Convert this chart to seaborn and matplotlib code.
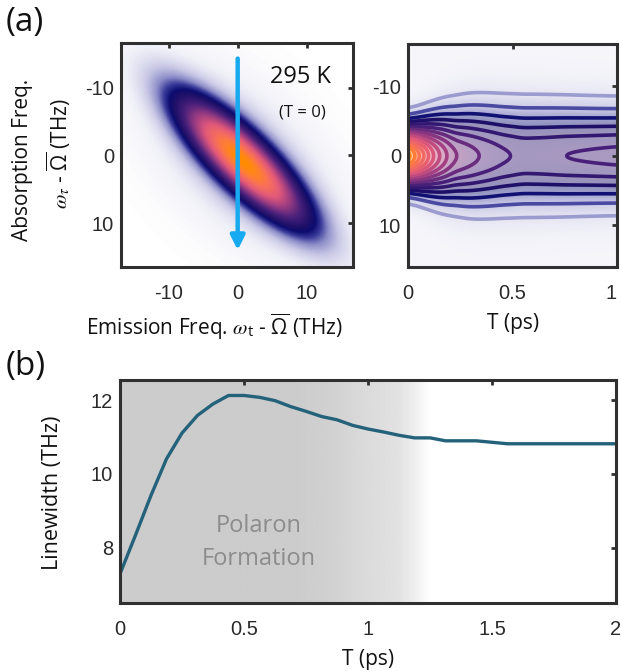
import numpy as np
import matplotlib
matplotlib.use("Agg")
import matplotlib.pyplot as plt
import seaborn as sns
import pandas as pd
from matplotlib.colors import LinearSegmentedColormap, Normalize

# ---------------- data ----------------
# Panel (b): linewidth vs population time
t_ps = [0, 0.0625, 0.125, 0.1875, 0.25, 0.3125, 0.375, 0.4375, 0.5, 0.5625,
        0.625, 0.6875, 0.75, 0.8125, 0.875, 0.9375, 1.0, 1.0625, 1.125, 1.1875,
        1.25, 1.3125, 1.375, 1.4375, 1.5, 1.5625, 2.0]
linewidth_thz = [7.29, 8.34, 9.42, 10.41, 11.11, 11.59, 11.90, 12.13, 12.13, 12.08,
                 11.99, 11.83, 11.70, 11.56, 11.47, 11.32, 11.22, 11.14, 11.05, 10.98,
                 10.98, 10.90, 10.90, 10.90, 10.86, 10.82, 10.82]

# gray "polaron formation" shading (T stops, gray level)
shade_t = [0, 0.72, 0.85, 1.0, 1.12, 1.18, 1.25, 2.0]
shade_gray = [0.80, 0.80, 0.82, 0.86, 0.885, 0.93, 1.0, 1.0]

# Panel (a) left: 2D spectrum at T = 0 (two gaussian components along the diagonal)
peak_center = [0.7, 0.8]
comp_amp = [0.9, 0.10]
comp_sigma_diag = [8.4, 12.0]
comp_sigma_anti = [2.5, 6.5]

# Panel (a) right: projected spectrum vs T (amplitude and width)
pop_t = [0, 0.033, 0.053, 0.077, 0.097, 0.12, 0.15, 0.185, 0.225, 0.3, 0.35,
         0.45, 0.55, 0.65, 0.75, 0.85, 1.0]
pop_amp = [1.0, 0.90, 0.84, 0.78, 0.72, 0.66, 0.60, 0.54, 0.48, 0.44, 0.415,
           0.37, 0.345, 0.35, 0.3595, 0.366, 0.376]
pop_sigma = [2.8, 3.0, 3.15, 3.3, 3.45, 3.65, 3.9, 4.1, 4.3, 4.6, 4.65,
             4.72, 4.76, 4.72, 4.65, 4.58, 4.49]
contour_levels = [0.06, 0.12, 0.18, 0.24, 0.30, 0.36, 0.42, 0.48, 0.54, 0.60,
                  0.66, 0.72, 0.78, 0.84, 0.90, 0.96]

freq_ticks = [-10, 0, 10]
t_ticks_a = [0, 0.5, 1]
t_ticks_b = [0, 0.5, 1, 1.5, 2]
lw_ticks = [8, 10, 12]

# ---------------- style ----------------
sns.set_theme(style="white")
LABEL_FONT = ["Open Sans", "DejaVu Sans"]
TICK_FONT = ["Liberation Sans", "DejaVu Sans"]
plt.rcParams["font.family"] = TICK_FONT
plt.rcParams["axes.unicode_minus"] = False
plt.rcParams["mathtext.fontset"] = "custom"
plt.rcParams["mathtext.rm"] = "Open Sans"
plt.rcParams["mathtext.it"] = "STIXGeneral:italic"
plt.rcParams["mathtext.bf"] = "Open Sans:bold"

FRAME = "#303030"
cmap = LinearSegmentedColormap.from_list(
    "spec",
    [(0.00, "#ffffff"), (0.04, "#f0f0f8"), (0.10, "#c8c8e6"), (0.16, "#8c8cc8"),
     (0.21, "#3a3a9a"), (0.26, "#0c0c70"), (0.31, "#1e1068"), (0.42, "#48207a"),
     (0.56, "#9a3c82"), (0.70, "#e0587a"), (0.84, "#f8705a"), (0.94, "#ff8228"),
     (1.00, "#ff8c00")])

W, H = 621, 671
fig = plt.figure(figsize=(W / 100, H / 100), dpi=100)


def px_axes(x0, y0, x1, y1):
    return fig.add_axes([x0 / W, 1 - y1 / H, (x1 - x0) / W, (y1 - y0) / H])


def style_axes(ax, xpad=12):
    for s in ax.spines.values():
        s.set_linewidth(2.2)
        s.set_color(FRAME)
        s.set_visible(True)
        s.set_zorder(5)
    ax.tick_params(direction="in", length=3.5, width=2, colors=FRAME,
                   top=True, right=True, labelsize=14.5, labelcolor="#2a2a2a")
    ax.tick_params(axis="x", pad=xpad)
    ax.tick_params(axis="y", pad=5)
    ax.set_xlabel("")
    ax.set_ylabel("")


def smooth(arr, n):
    k = np.exp(-0.5 * (np.arange(-3 * n, 3 * n + 1) / n) ** 2)
    k /= k.sum()
    pad = np.pad(arr, 3 * n, mode="edge")
    return np.convolve(pad, k, mode="valid")


# ---- (a) left: 2D spectrum ----
ax1 = px_axes(121, 43, 353, 267)
x = np.linspace(-17, 17, 341)
y = np.linspace(-17, 17, 341)
X, Y = np.meshgrid(x, y)
U = ((X - peak_center[0]) + (Y - peak_center[1])) / np.sqrt(2)
V = ((Y - peak_center[1]) - (X - peak_center[0])) / np.sqrt(2)
Z = np.zeros_like(X)
for a, sd, sa in zip(comp_amp, comp_sigma_diag, comp_sigma_anti):
    Z += a * np.exp(-U**2 / (2 * sd**2) - V**2 / (2 * sa**2))
ax1.imshow(Z, extent=[-17, 17, -17, 17], origin="lower", cmap=cmap,
           norm=Normalize(0, 1), interpolation="bilinear", aspect="auto")
ax1.set_xlim(-16.9, 16.7)
ax1.set_ylim(16.5, -16.6)
ax1.set_xticks(freq_ticks)
ax1.set_yticks(freq_ticks)
style_axes(ax1)
ax1.annotate("", xy=(0, 14.0), xytext=(0, -14.3),
             arrowprops=dict(arrowstyle="-|>,head_length=0.7,head_width=0.35",
                             color="#17aaf0", lw=3.2, shrinkA=0, shrinkB=0))
ax1.text(9.1, -11.6, "295 K", ha="center", va="center", fontsize=17,
         family=LABEL_FONT, color="#111111")
ax1.text(9.3, -6.4, "(T = 0)", ha="center", va="center", fontsize=12,
         family=LABEL_FONT, color="#111111")

# ---- (a) right: spectrum vs T ----
ax2 = px_axes(408, 44, 617, 267)
tt = np.linspace(0, 1, 801)
ww = np.linspace(-16.5, 16.5, 661)
TT, WW = np.meshgrid(tt, ww)
amp = smooth(np.interp(tt, pop_t, pop_amp), 16)
sig = smooth(np.interp(tt, pop_t, pop_sigma), 40)
S = amp[None, :] * np.exp(-WW**2 / (2 * sig[None, :] ** 2))
ax2.imshow(S, extent=[0, 1, -16.5, 16.5], origin="lower", cmap=cmap,
           norm=Normalize(-0.05, 1), interpolation="bilinear", aspect="auto",
           alpha=0.45, zorder=0)
ax2.contour(TT, WW, S, levels=contour_levels, cmap=cmap,
            norm=Normalize(-0.1, 1.0), linewidths=2.6, zorder=2)
ax2.set_xlim(0, 1)
ax2.set_ylim(16.0, -16.1)
ax2.set_xticks(t_ticks_a)
ax2.set_xticklabels(["0", "0.5", "1"])
ax2.get_xticklabels()[-1].set_horizontalalignment("right")
ax2.set_yticks(freq_ticks)
style_axes(ax2)

# ---- (b) linewidth ----
ax3 = px_axes(120, 380, 616, 603)
gt = np.linspace(0, 2, 801)
grad = np.interp(gt, shade_t, shade_gray)
ax3.imshow(grad[None, :], extent=[0, 2, 6.5, 12.55], aspect="auto",
           cmap="gray", vmin=0, vmax=1, interpolation="bilinear", zorder=0)
df = pd.DataFrame({"T": t_ps, "LW": linewidth_thz})
sns.lineplot(data=df, x="T", y="LW", ax=ax3, color="#23627a", linewidth=2.4,
             zorder=3)
ax3.set_xlim(0, 2)
ax3.set_ylim(6.5, 12.55)
ax3.set_xticks(t_ticks_b)
ax3.set_xticklabels(["0", "0.5", "1", "1.5", "2"])
ax3.set_yticks(lw_ticks)
style_axes(ax3)
ax3.text(0.56, 8.13, "Polaron\nFormation", ha="center", va="center",
         fontsize=17, color="#8c8c8c", family=LABEL_FONT, linespacing=1.5)

# ---- labels ----
def ftext(px, py, s, **kw):
    kw.setdefault("family", LABEL_FONT)
    kw.setdefault("color", "#111111")
    fig.text(px / W, 1 - py / H, s, **kw)

ftext(6, 22, "(a)", fontsize=24, ha="left", va="center")
ftext(6, 366, "(b)", fontsize=24, ha="left", va="center")
ftext(23, 160, "Absorption Freq.", fontsize=15, rotation=90, ha="center", va="center")
ftext(59, 154, r"$\omega_{\tau}$ - $\overline{\Omega}$ (THz)", fontsize=15,
      rotation=90, ha="center", va="center")
ftext(214, 327, r"Emission Freq. $\omega_{\mathrm{t}}$ - $\overline{\Omega}$ (THz)",
      fontsize=15, ha="center", va="center")
ftext(513, 323, "T (ps)", fontsize=15, ha="center", va="center")
ftext(53, 493, "Linewidth (THz)", fontsize=15.5, rotation=90, ha="center", va="center")
ftext(368, 660, "T (ps)", fontsize=15, ha="center", va="center")

fig.savefig("out.png", dpi=100)
